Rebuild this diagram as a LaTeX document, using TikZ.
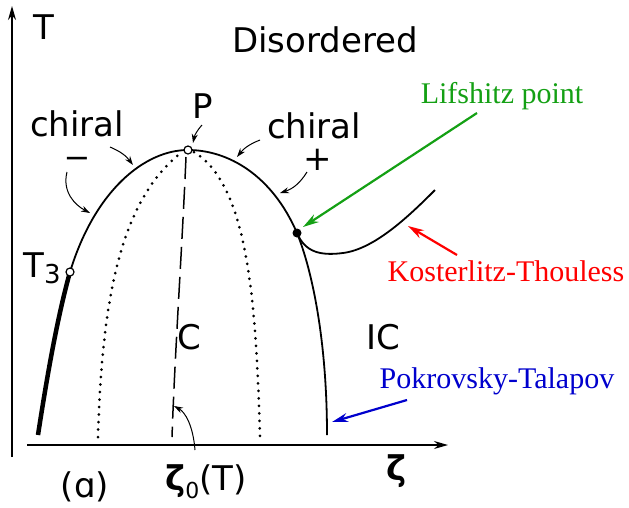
\documentclass[tikz,border=0pt]{standalone}
\usepackage{fontspec}
\setmainfont{Liberation Serif}
\newfontfamily\lett{DejaVu Sans}
\usetikzlibrary{arrows.meta}
\definecolor{lgreen}{RGB}{20,160,20}
\definecolor{lred}{RGB}{255,0,0}
\definecolor{lblue}{RGB}{0,0,205}
\begin{document}
\begin{tikzpicture}[x=1pt,y=-1pt,
  lab/.style={font=\lett\fontsize{34}{34}\selectfont, inner sep=0},
  cl/.style={font=\fontsize{30}{30}\selectfont, inner sep=0},
  opt/.style={circle, draw, fill=white, line width=1.2pt, inner sep=0, minimum size=8pt},
  fpt/.style={circle, fill=black, inner sep=0, minimum size=9pt},
  harrow/.style={-{Stealth[length=9pt,width=6pt]}, line width=1pt},
  carrow/.style={-{Stealth[length=16pt,width=9pt]}, line width=2.2pt},
  curve/.style={line width=1.8pt},
  dotline/.style={line width=3pt, line cap=round, dash pattern=on 0pt off 7.5pt},
  dashline/.style={line width=1.5pt, dash pattern=on 22pt off 8pt},
]
\useasboundingbox (0,0) rectangle (629,507);

% axes
\coordinate (Ybot) at (12,457); \coordinate (Ytop) at (12,6);
\coordinate (Xbeg) at (27,445); \coordinate (Xend) at (448,445);
\draw[line width=1.5pt, -{Stealth[length=14pt,width=8pt]}] (Ybot) -- (Ytop);
\draw[line width=1.5pt, -{Stealth[length=14pt,width=8pt]}] (Xbeg) -- (Xend);

% key points
\coordinate (B0) at (38,435);
\coordinate (T3) at (70,272);
\coordinate (P) at (188,150);
\coordinate (L) at (297,233);
\coordinate (B1) at (327,435);
\coordinate (KTm) at (343,253);
\coordinate (KTe) at (435,190);

% phase boundary
\draw[line width=4.5pt] (B0) .. controls (48,370) and (58,315) .. (T3);
\draw[curve] (T3) .. controls (95,190) and (145,150) .. (P)
  .. controls (228,150) and (272,175) .. (L)
  .. controls (312,270) and (327,340) .. (B1);
\draw[curve] (L) .. controls (305,252) and (320,256) .. (KTm)
  .. controls (375,249) and (410,215) .. (KTe);

% dotted and dashed lines
\coordinate (DL0) at (98,437); \coordinate (DL1) at (182,152);
\coordinate (DR0) at (194,152); \coordinate (DR1) at (260,437);
\draw[dotline] (DL0) .. controls (102,300) and (120,200) .. (DL1);
\draw[dotline] (DR0) .. controls (248,185) and (256,300) .. (DR1);
\coordinate (D0) at (186,157); \coordinate (D1) at (172,437);
\draw[dashline] (D0) .. controls (182,250) and (175,350) .. (D1);

% point markers
\node[opt] (Pn) at (P) {};
\node[opt] (T3n) at (T3) {};
\node[fpt] (Ln) at (L) {};

% labels
\node[lab] (Tl) at (44,27) {T};
\node[lab] (Dis) at (325,40) {Disordered};
\node[lab] (Pl) at (203,106) {P};
\node[lab, text height=26pt, text depth=0pt] (chL) at (77,123) {chiral};
\node[lab, text height=8pt, text depth=0pt] (mi) at (77,161) {\scalebox{1.45}[1]{\fontsize{22}{22}\selectfont\bfseries −}};
\node[lab] (chR) at (314,126) {chiral};
\node[lab] (pl) at (318,160) {+};
\node[lab] (T3l) at (42,268) {T\raisebox{-0.3ex}{\fontsize{26}{26}\selectfont 3}};
\node[lab] (Cl) at (189,337) {C};
\node[lab] (ICl) at (383,337) {IC};
\node[lab] (al) at (85,487) {(ɑ)};
\node[lab] (z0) at (206,482) {{\bfseries ζ}\raisebox{-0.45ex}{\fontsize{22}{22}\selectfont 0}(T)};
\node[lab] (zl) at (397,471) {\bfseries ζ};

% small black arrows
\coordinate (a1s) at (110,147); \coordinate (a1e) at (133,165);
\draw[harrow] (a1s) to[bend left=15] (a1e);
\coordinate (a2s) at (67,172); \coordinate (a2e) at (90,213);
\draw[harrow] (a2s) .. controls (62,192) and (75,205) .. (a2e);
\coordinate (a3s) at (202,125); \coordinate (a3e) at (193,143);
\draw[harrow] (a3s) to[bend right=15] (a3e);
\coordinate (a4s) at (260,140); \coordinate (a4e) at (237,157);
\draw[harrow] (a4s) to[bend right=15] (a4e);
\coordinate (a5s) at (307,172); \coordinate (a5e) at (280,193);
\draw[harrow] (a5s) to[bend left=20] (a5e);
\coordinate (a6s) at (195,450); \coordinate (a6e) at (174,406);
\draw[harrow] (a6s) .. controls (193,425) and (185,412) .. (a6e);

% coloured annotations
\node[cl, text=lgreen] (Lif) at (502,96) {Lifshitz point};
\node[cl, text=lred] (KT) at (506,271) {Kosterlitz-Thouless};
\node[cl, text=lblue] (PT) at (497,381) {Pokrovsky-Talapov};
\coordinate (g0) at (477,113); \coordinate (g1) at (303,227);
\draw[carrow, lgreen] (g0) -- (g1);
\coordinate (r0) at (457,255); \coordinate (r1) at (408,226);
\draw[carrow, lred] (r0) -- (r1);
\coordinate (b0) at (407,400); \coordinate (b1) at (332,422);
\draw[carrow, lblue] (b0) -- (b1);
\end{tikzpicture}
\end{document}
